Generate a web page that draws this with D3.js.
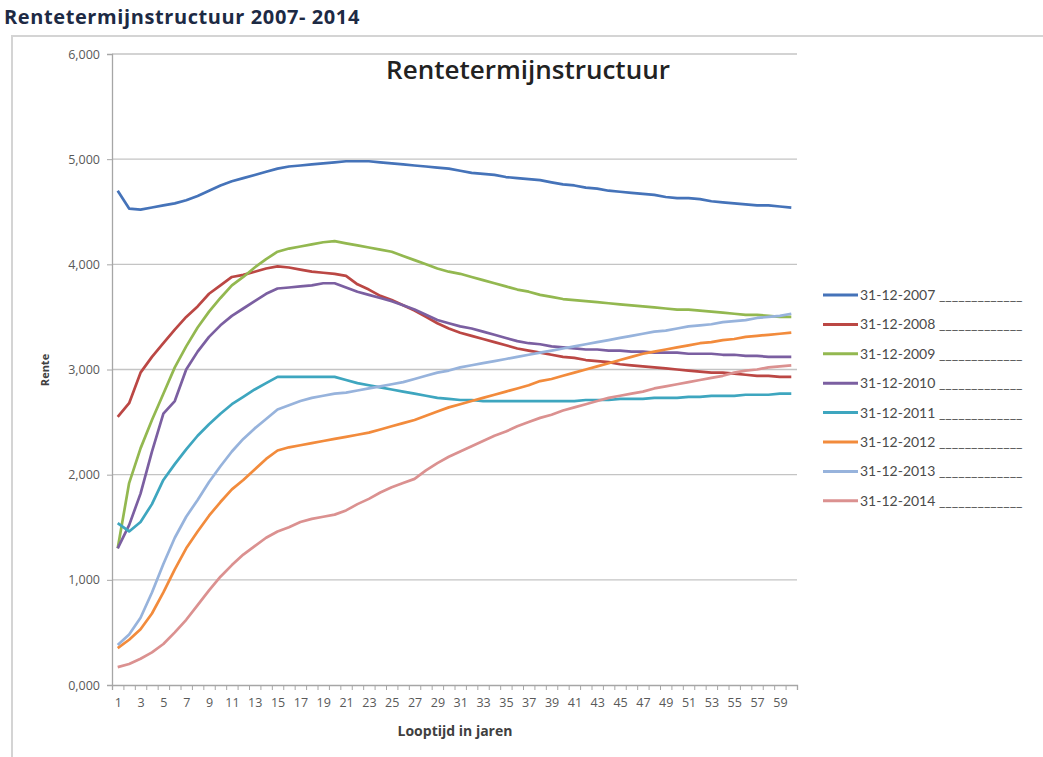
<!DOCTYPE html>
<html>
<head>
<meta charset="utf-8">
<script src="https://cdn.jsdelivr.net/npm/d3@7"></script>
<style>
body{margin:0;background:#fff;font-family:"Open Sans",Lato,sans-serif;}
</style>
</head>
<body>
<div class="chart"></div>
<script>
// looptijd 1..60 jaar
const looptijd = d3.range(1, 61)
const seriesNames = ['31-12-2007','31-12-2008','31-12-2009','31-12-2010','31-12-2011','31-12-2012','31-12-2013','31-12-2014']
const yTicks = [0,1,2,3,4,5,6]

const r2007 = [4.70,4.53,4.52,4.54,4.56,4.58,4.61,4.65,4.70,4.75,4.79,4.82,4.85,4.88,4.91,4.93,4.94,4.95,4.96,4.97,
	4.98,4.98,4.98,4.97,4.96,4.95,4.94,4.93,4.92,4.91,4.89,4.87,4.86,4.85,4.83,4.82,4.81,4.80,4.78,4.76,
	4.75,4.73,4.72,4.70,4.69,4.68,4.67,4.66,4.64,4.63,4.63,4.62,4.60,4.59,4.58,4.57,4.56,4.56,4.55,4.54]
const r2008 = [2.55,2.68,2.97,3.12,3.25,3.38,3.50,3.60,3.72,3.80,3.88,3.90,3.93,3.96,3.98,3.97,3.95,3.93,3.92,3.91,
	3.89,3.81,3.76,3.70,3.66,3.61,3.56,3.50,3.44,3.39,3.35,3.32,3.29,3.26,3.23,3.20,3.18,3.16,3.14,3.12,
	3.11,3.09,3.08,3.07,3.05,3.04,3.03,3.02,3.01,3.00,2.99,2.98,2.97,2.97,2.96,2.95,2.94,2.94,2.93,2.93]
const r2009 = [1.30,1.92,2.25,2.52,2.77,3.02,3.22,3.40,3.55,3.68,3.80,3.88,3.97,4.05,4.12,4.15,4.17,4.19,4.21,4.22,
	4.20,4.18,4.16,4.14,4.12,4.08,4.04,4.00,3.96,3.93,3.91,3.88,3.85,3.82,3.79,3.76,3.74,3.71,3.69,3.67,
	3.66,3.65,3.64,3.63,3.62,3.61,3.60,3.59,3.58,3.57,3.57,3.56,3.55,3.54,3.53,3.52,3.52,3.51,3.50,3.50]
const r2010 = [1.30,1.52,1.82,2.22,2.58,2.70,3.00,3.17,3.31,3.42,3.51,3.58,3.65,3.72,3.77,3.78,3.79,3.80,3.82,3.82,
	3.78,3.74,3.71,3.68,3.65,3.61,3.57,3.52,3.47,3.44,3.41,3.39,3.36,3.33,3.30,3.27,3.25,3.24,3.22,3.21,
	3.20,3.19,3.19,3.18,3.18,3.17,3.17,3.16,3.16,3.16,3.15,3.15,3.15,3.14,3.14,3.13,3.13,3.12,3.12,3.12]
const r2011 = [1.54,1.46,1.55,1.72,1.95,2.10,2.24,2.37,2.48,2.58,2.67,2.74,2.81,2.87,2.93,2.93,2.93,2.93,2.93,2.93,
	2.90,2.87,2.85,2.83,2.81,2.79,2.77,2.75,2.73,2.72,2.71,2.71,2.70,2.70,2.70,2.70,2.70,2.70,2.70,2.70,
	2.70,2.71,2.71,2.71,2.72,2.72,2.72,2.73,2.73,2.73,2.74,2.74,2.75,2.75,2.75,2.76,2.76,2.76,2.77,2.77]
const r2012 = [0.35,0.43,0.53,0.68,0.88,1.10,1.30,1.46,1.61,1.74,1.86,1.95,2.05,2.15,2.23,2.26,2.28,2.30,2.32,2.34,
	2.36,2.38,2.40,2.43,2.46,2.49,2.52,2.56,2.60,2.64,2.67,2.70,2.73,2.76,2.79,2.82,2.85,2.89,2.91,2.94,
	2.97,3.00,3.03,3.06,3.09,3.12,3.15,3.17,3.19,3.21,3.23,3.25,3.26,3.28,3.29,3.31,3.32,3.33,3.34,3.35]
const r2013 = [0.38,0.48,0.64,0.88,1.15,1.40,1.60,1.76,1.93,2.08,2.22,2.34,2.44,2.53,2.62,2.66,2.70,2.73,2.75,2.77,
	2.78,2.80,2.82,2.84,2.86,2.88,2.91,2.94,2.97,2.99,3.02,3.04,3.06,3.08,3.10,3.12,3.14,3.16,3.18,3.20,
	3.22,3.24,3.26,3.28,3.30,3.32,3.34,3.36,3.37,3.39,3.41,3.42,3.43,3.45,3.46,3.47,3.49,3.50,3.51,3.53]
const r2014 = [0.17,0.20,0.25,0.31,0.39,0.50,0.62,0.76,0.90,1.03,1.14,1.24,1.32,1.40,1.46,1.50,1.55,1.58,1.60,1.62,
	1.66,1.72,1.77,1.83,1.88,1.92,1.96,2.04,2.11,2.17,2.22,2.27,2.32,2.37,2.41,2.46,2.50,2.54,2.57,2.61,
	2.64,2.67,2.70,2.73,2.75,2.77,2.79,2.82,2.84,2.86,2.88,2.90,2.92,2.94,2.97,2.99,3.00,3.02,3.03,3.04]

const seriesValues = [r2007,r2008,r2009,r2010,r2011,r2012,r2013,r2014]
const colors = ['#4573b9','#bb4744','#93b850','#7b5fa1','#3ea6bf','#f28b3c','#97b3dc','#db9190']

const W = 1043, H = 757
const plot = {left:112, right:797, top:54, bottom:685}

const svg = d3.select('.chart').append('svg')
	.attr('width', W).attr('height', H)

// outer title + frame
svg.append('text')
	.attr('x', 4).attr('y', 24)
	.attr('font-size', 20).attr('font-weight', 'bold')
	.attr('letter-spacing', 0.6)
	.attr('fill', '#1d2a44')
	.text('Rentetermijnstructuur 2007- 2014')

svg.append('rect')
	.attr('x', 12).attr('y', 36)
	.attr('width', W).attr('height', H)
	.attr('fill', 'none').attr('stroke', '#d4d4d4').attr('stroke-width', 2)

const x = d3.scaleLinear().domain([0.5, 60.5]).range([plot.left, plot.right])
const y = d3.scaleLinear().domain([0, 6]).range([plot.bottom, plot.top])

const nl = d3.formatLocale({decimal: ',', thousands: '.', grouping: [3], currency: ['€','']})
const fmt = nl.format('.3f')

// gridlines
svg.append('g')
	.selectAll('line')
	.data(yTicks.filter(d => d > 0))
	.enter().append('line')
	.attr('x1', plot.left).attr('x2', plot.right)
	.attr('y1', d => y(d)).attr('y2', d => y(d))
	.attr('stroke', '#c4c4c4').attr('stroke-width', 1.3)

// y axis
const yAxis = d3.axisLeft(y).tickValues(yTicks).tickSize(5).tickPadding(7).tickFormat(fmt)
const gy = svg.append('g')
	.attr('transform', `translate(${plot.left},0)`)
	.call(yAxis)
gy.select('.domain').attr('stroke', '#a6a6a6').attr('stroke-width', 1.3)
gy.selectAll('.tick line').attr('stroke', '#a6a6a6')
gy.selectAll('text').attr('font-family', '"Open Sans"').attr('font-size', 12.5).attr('fill', '#595959')

// x axis: boundary ticks + labels on odd years
const xTickAxis = d3.axisBottom(x).tickValues(d3.range(0.5, 61, 1)).tickSize(5).tickFormat('')
const gxt = svg.append('g')
	.attr('transform', `translate(0,${plot.bottom})`)
	.call(xTickAxis)
gxt.select('.domain').attr('stroke', '#a6a6a6').attr('stroke-width', 1.3)
gxt.selectAll('.tick line').attr('stroke', '#a6a6a6')

const xLabelAxis = d3.axisBottom(x).tickValues(looptijd.filter(d => d % 2 === 1)).tickSize(0).tickPadding(13)
const gxl = svg.append('g')
	.attr('transform', `translate(0,${plot.bottom})`)
	.call(xLabelAxis)
gxl.select('.domain').remove()
gxl.selectAll('text').attr('font-family', '"Open Sans"').attr('font-size', 12.5).attr('fill', '#595959')

// axis titles
svg.append('text')
	.attr('x', 455).attr('y', 736)
	.attr('text-anchor', 'middle')
	.attr('font-size', 14).attr('font-weight', 'bold').attr('fill', '#404040')
	.text('Looptijd in jaren')

svg.append('text')
	.attr('transform', 'translate(49,370) rotate(-90)')
	.attr('text-anchor', 'middle')
	.attr('font-size', 11).attr('font-weight', 'bold').attr('fill', '#404040')
	.text('Rente')

// chart title
svg.append('text')
	.attr('x', 528).attr('y', 79)
	.attr('text-anchor', 'middle')
	.attr('font-size', 26).attr('font-weight', 600).attr('fill', '#222')
	.text('Rentetermijnstructuur')

// lines
const line = d3.line()
	.x((d, i) => x(looptijd[i]))
	.y(d => y(d))

svg.append('g')
	.selectAll('path')
	.data(seriesValues)
	.enter().append('path')
	.attr('d', line)
	.attr('fill', 'none')
	.attr('stroke', (d, i) => colors[i])
	.attr('stroke-width', 2.7)
	.attr('stroke-linejoin', 'round')

// legend
const legend = svg.append('g')
	.selectAll('g')
	.data(seriesNames)
	.enter().append('g')
	.attr('transform', (d, i) => `translate(823,${295 + i * 29.4})`)

legend.append('line')
	.attr('x1', 0).attr('x2', 35)
	.attr('stroke', (d, i) => colors[i])
	.attr('stroke-width', 3)

legend.append('text')
	.attr('x', 37).attr('y', 5)
	.attr('font-family', 'Lato')
	.attr('font-size', 14).attr('fill', '#4a4a4a')
	.text(d => d + ' _____________')
</script>
</body>
</html>
